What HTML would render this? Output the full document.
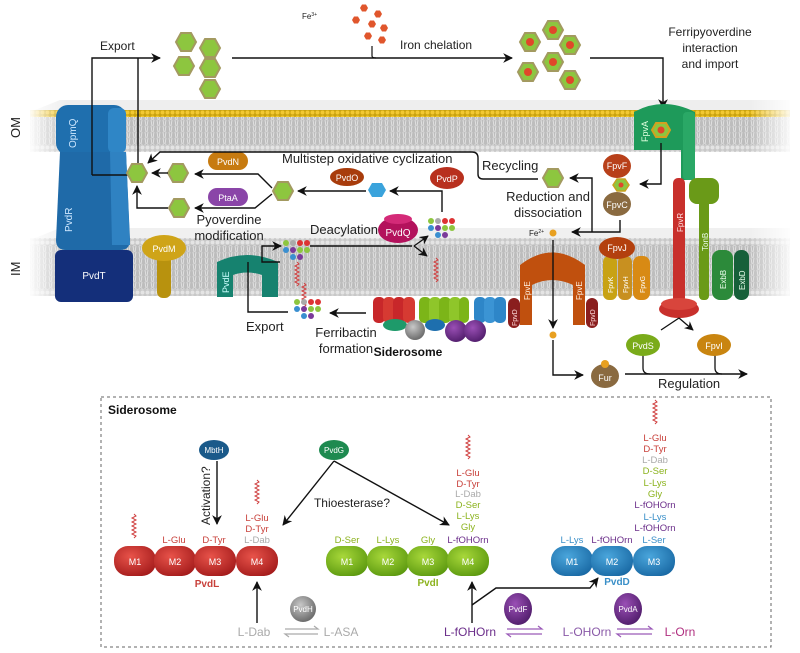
<!DOCTYPE html>
<html><head><meta charset="utf-8">
<style>
html,body{margin:0;padding:0;background:#fff;}
svg{display:block;font-family:"Liberation Sans",sans-serif;}
</style></head><body>
<svg width="800" height="653" viewBox="0 0 800 653" xmlns="http://www.w3.org/2000/svg">
<defs>
<marker id="ar" viewBox="0 0 10 10" refX="9" refY="5" markerWidth="7" markerHeight="7" orient="auto-start-reverse"><path d="M0,0 L10,5 L0,10 L3,5z" fill="#111"/></marker>
<pattern id="lip" width="6" height="6" patternUnits="userSpaceOnUse"><rect width="6" height="6" fill="#bdbdbd"/><path d="M1,0 L2,6 M4,0 L3,6" stroke="#e6e6e6" stroke-width="0.8"/></pattern>
<pattern id="heads" width="5" height="5" patternUnits="userSpaceOnUse"><rect width="5" height="5" fill="#c8c8c8"/><circle cx="2.5" cy="2.5" r="2" fill="#e4e4e4"/></pattern>
<pattern id="yheads" width="5" height="5" patternUnits="userSpaceOnUse"><rect width="5" height="5" fill="#c9a20e"/><circle cx="2.5" cy="2.5" r="2" fill="#f2c832"/></pattern>
<linearGradient id="fadeL" x1="0" x2="1"><stop offset="0" stop-color="#fff" stop-opacity="1"/><stop offset="1" stop-color="#fff" stop-opacity="0"/></linearGradient>
<linearGradient id="fadeR" x1="0" x2="1"><stop offset="0" stop-color="#fff" stop-opacity="0"/><stop offset="1" stop-color="#fff" stop-opacity="1"/></linearGradient>
<radialGradient id="gR" cx="0.4" cy="0.35" r="0.7"><stop offset="0" stop-color="#e8534a"/><stop offset="1" stop-color="#a51c1c"/></radialGradient>
<radialGradient id="gG" cx="0.4" cy="0.35" r="0.7"><stop offset="0" stop-color="#a8d83a"/><stop offset="1" stop-color="#5d9a10"/></radialGradient>
<radialGradient id="gB" cx="0.4" cy="0.35" r="0.7"><stop offset="0" stop-color="#4aa6dc"/><stop offset="1" stop-color="#1a6aa5"/></radialGradient>
<radialGradient id="gP" cx="0.4" cy="0.35" r="0.7"><stop offset="0" stop-color="#9a4fb5"/><stop offset="1" stop-color="#4f1c6a"/></radialGradient>
<radialGradient id="gGr" cx="0.4" cy="0.35" r="0.7"><stop offset="0" stop-color="#c8c8c8"/><stop offset="1" stop-color="#666"/></radialGradient>
<g id="hx"><polygon points="-10,0 -5,-9 5,-9 10,0 5,9 -5,9" fill="#8dc63f" stroke="#a39a60" stroke-width="2"/></g>
<g id="hxf"><polygon points="-10,0 -5,-9 5,-9 10,0 5,9 -5,9" fill="#8dc63f" stroke="#a39a60" stroke-width="2"/><circle r="4" fill="#e0472a"/></g>
<g id="rh"><polygon points="-4,0 -2,-3.5 2,-3.5 4,0 2,3.5 -2,3.5" fill="#e0562c"/></g>
<g id="dots">
<circle cx="0" cy="0" r="3" fill="#8dc63f"/><circle cx="7" cy="0" r="3" fill="#aaa"/><circle cx="14" cy="0" r="3" fill="#d33"/><circle cx="21" cy="0" r="3" fill="#d33"/>
<circle cx="0" cy="7" r="3" fill="#3a8fd0"/><circle cx="7" cy="7" r="3" fill="#7b3a9a"/><circle cx="14" cy="7" r="3" fill="#8dc63f"/><circle cx="21" cy="7" r="3" fill="#8dc63f"/>
<circle cx="7" cy="14" r="3" fill="#3a8fd0"/><circle cx="14" cy="14" r="3" fill="#7b3a9a"/></g>
<path id="sq" d="M0,0 l2,2 l-4,2 l4,2 l-4,2 l4,2 l-4,2 l4,2 l-4,2 l4,2 l-4,2 l4,2 l-2,2" fill="none" stroke="#d04040" stroke-width="1"/>
</defs>

<path d="M30,112 L60,100 L790,100 L790,112z" fill="#eee"/>
<rect x="30" y="110" width="760" height="7" fill="url(#yheads)"/>
<rect x="30" y="117" width="760" height="29" fill="url(#lip)"/>
<rect x="30" y="145" width="760" height="7" fill="url(#heads)"/>
<path d="M30,240 L60,228 L790,228 L790,240z" fill="#f0f0f0"/>
<rect x="30" y="238" width="760" height="7" fill="url(#heads)"/>
<rect x="30" y="245" width="760" height="45" fill="url(#lip)"/>
<rect x="30" y="289" width="760" height="7" fill="url(#heads)"/>
<rect x="28" y="95" width="40" height="205" fill="url(#fadeL)"/>
<rect x="750" y="95" width="45" height="205" fill="url(#fadeR)"/>

<text transform="translate(20,138) rotate(-90)" font-size="13" fill="#222">OM</text>
<text transform="translate(20,276) rotate(-90)" font-size="13" fill="#222">IM</text>

<rect x="56" y="105" width="70" height="50" rx="12" fill="#1f6fae"/>
<rect x="108" y="108" width="18" height="45" rx="6" fill="#2f86c6"/>
<text transform="translate(76,148) rotate(-90)" font-size="10" fill="#cfe8ff">OpmQ</text>
<path d="M60,152 L126,152 L130,240 Q130,250 120,250 L66,250 Q56,250 56,240z" fill="#1f6aa8"/>
<path d="M110,152 L126,152 L130,245 L112,245z" fill="#2f82c2"/>
<text transform="translate(72,232) rotate(-90)" font-size="10" fill="#cfe8ff">PvdR</text>
<rect x="55" y="250" width="78" height="52" rx="6" fill="#142f7a"/>
<text x="94" y="279" font-size="10" fill="#fff" text-anchor="middle">PvdT</text>

<rect x="157" y="250" width="14" height="48" rx="6" fill="#b8920e"/>
<ellipse cx="164" cy="248" rx="22" ry="13" fill="#cfa418"/>
<text x="164" y="252" font-size="9" fill="#fff" text-anchor="middle">PvdM</text>

<path d="M217,262 Q247,248 278,262 L278,297 L262,297 L262,275 Q247,270 233,275 L233,297 L217,297z" fill="#16826f"/>
<text transform="translate(229,293) rotate(-90)" font-size="9" fill="#cff">PvdE</text>

<use href="#hx" x="186" y="42"/><use href="#hx" x="210" y="48"/><use href="#hx" x="210" y="68"/><use href="#hx" x="184" y="66"/><use href="#hx" x="210" y="89"/>
<text x="100" y="50" font-size="12" fill="#222">Export</text>
<path d="M92,175 L92,58 L160,58" fill="none" stroke="#111" stroke-width="1.4" marker-end="url(#ar)"/>
<path d="M138,165 L138,58" fill="none" stroke="#111" stroke-width="1.4"/>
<path d="M92,175 L128,175" fill="none" stroke="#111" stroke-width="1.4"/>
<text x="302" y="19" font-size="8" fill="#222">Fe<tspan font-size="5" dy="-3">3+</tspan></text>
<use href="#rh" x="364" y="8"/><use href="#rh" x="378" y="14"/><use href="#rh" x="356" y="20"/><use href="#rh" x="372" y="24"/><use href="#rh" x="384" y="28"/><use href="#rh" x="368" y="36"/><use href="#rh" x="382" y="40"/>
<path d="M372,46 L372,56 Q372,58 376,58" fill="none" stroke="#111" stroke-width="1.2"/>
<path d="M232,58 L512,58" fill="none" stroke="#111" stroke-width="1.4" marker-end="url(#ar)"/>
<text x="400" y="49" font-size="12" fill="#222">Iron chelation</text>
<use href="#hxf" x="553" y="30"/><use href="#hxf" x="530" y="42"/><use href="#hxf" x="570" y="45"/><use href="#hxf" x="553" y="62"/><use href="#hxf" x="528" y="72"/><use href="#hxf" x="570" y="80"/>
<path d="M590,58 L663,58 L663,108" fill="none" stroke="#111" stroke-width="1.4" marker-end="url(#ar)"/>
<text font-size="12" fill="#222" text-anchor="middle"><tspan x="710" y="36">Ferripyoverdine</tspan><tspan x="710" y="52">interaction</tspan><tspan x="710" y="68">and import</tspan></text>

<use href="#hx" x="137" y="173"/><use href="#hx" x="178" y="173"/><use href="#hx" x="179" y="208"/><use href="#hx" x="283" y="191"/>
<path d="M168,173 L152,173" stroke="#111" stroke-width="1.4" marker-end="url(#ar)"/>
<path d="M272,188 L258,174 L195,174" fill="none" stroke="#111" stroke-width="1.4" marker-end="url(#ar)"/>
<path d="M272,194 L255,208 L195,208" fill="none" stroke="#111" stroke-width="1.4" marker-end="url(#ar)"/>
<path d="M168,208 L137,208 L137,186" fill="none" stroke="#111" stroke-width="1.4" marker-end="url(#ar)"/>
<rect x="208" y="152" width="40" height="18" rx="9" fill="#c77b10"/><text x="228" y="165" font-size="9" fill="#fff" text-anchor="middle">PvdN</text>
<rect x="208" y="188" width="40" height="18" rx="9" fill="#8a45a8"/><text x="228" y="201" font-size="9" fill="#fff" text-anchor="middle">PtaA</text>
<text font-size="13" fill="#222" text-anchor="middle"><tspan x="229" y="224">Pyoverdine</tspan><tspan x="229" y="240">modification</tspan></text>
<text x="282" y="163" font-size="13" fill="#222">Multistep oxidative cyclization</text>
<ellipse cx="347" cy="177" rx="17" ry="9" fill="#a83c0c"/><text x="347" y="181" font-size="9" fill="#fff" text-anchor="middle">PvdO</text>
<polygon points="368,190 372,183 382,183 386,190 382,197 372,197" fill="#3aa3dc"/>
<path d="M366,191 L298,191" stroke="#111" stroke-width="1.4" marker-end="url(#ar)"/>
<ellipse cx="447" cy="178" rx="17" ry="11" fill="#b8301e"/><text x="447" y="182" font-size="9" fill="#fff" text-anchor="middle">PvdP</text>
<path d="M442,212 L442,191 L390,191" fill="none" stroke="#111" stroke-width="1.4" marker-end="url(#ar)"/>
<use href="#dots" x="431" y="221"/>
<ellipse cx="398" cy="230" rx="20" ry="13" fill="#b3125c"/><ellipse cx="398" cy="219" rx="14" ry="5" fill="#d42a78"/><text x="398" y="236" font-size="10" fill="#fff" text-anchor="middle">PvdQ</text>
<text x="310" y="234" font-size="13" fill="#222">Deacylation</text>
<use href="#dots" x="286" y="243"/>
<path d="M310,246 L412,246" stroke="#111" stroke-width="1.4"/>
<path d="M414,246 L428,236" stroke="#111" stroke-width="1.3" marker-end="url(#ar)"/>
<path d="M414,246 L427,256" stroke="#111" stroke-width="1.3" marker-end="url(#ar)"/>
<use href="#sq" x="436" y="258"/>
<use href="#sq" x="297" y="262"/><use href="#sq" x="304" y="283"/>
<path d="M280,262 L262,262 L262,246 L281,246" fill="none" stroke="#111" stroke-width="1.4" marker-end="url(#ar)"/>
<path d="M288,312 L248,312 L248,262" fill="none" stroke="#111" stroke-width="1.4"/>
<use href="#dots" x="297" y="302"/>
<text x="246" y="331" font-size="13" fill="#222">Export</text>
<path d="M366,313 L330,313" stroke="#111" stroke-width="1.4" marker-end="url(#ar)"/>
<text font-size="13" fill="#222" text-anchor="middle"><tspan x="346" y="337">Ferribactin</tspan><tspan x="346" y="353">formation</tspan></text>

<g>
<rect x="373" y="297" width="12" height="26" rx="5" fill="#c8272a"/><rect x="383" y="297" width="12" height="26" rx="5" fill="#d63a32"/><rect x="393" y="297" width="12" height="26" rx="5" fill="#c8272a"/><rect x="403" y="297" width="12" height="26" rx="5" fill="#d63a32"/>
<rect x="419" y="297" width="12" height="26" rx="5" fill="#7cb518"/><rect x="429" y="297" width="12" height="26" rx="5" fill="#8fc62a"/><rect x="439" y="297" width="12" height="26" rx="5" fill="#7cb518"/><rect x="449" y="297" width="12" height="26" rx="5" fill="#8fc62a"/><rect x="459" y="297" width="10" height="26" rx="5" fill="#7cb518"/>
<rect x="474" y="297" width="12" height="26" rx="5" fill="#2e86c8"/><rect x="484" y="297" width="12" height="26" rx="5" fill="#3b94d4"/><rect x="494" y="297" width="12" height="26" rx="5" fill="#2e86c8"/>
<ellipse cx="395" cy="325" rx="12" ry="6" fill="#1e9a6a"/>
<circle cx="415" cy="330" r="10" fill="url(#gGr)"/>
<ellipse cx="435" cy="325" rx="10" ry="6" fill="#1e6fae"/>
<circle cx="456" cy="331" r="11" fill="url(#gP)"/><circle cx="475" cy="331" r="11" fill="url(#gP)"/>
</g>
<text x="408" y="356" font-size="12" font-weight="bold" fill="#111" text-anchor="middle">Siderosome</text>

<path d="M538,179 L483,179 Q478,179 478,174 L478,158 Q478,152 472,152 L160,152 L148,163" fill="none" stroke="#111" stroke-width="1.4" marker-end="url(#ar)"/>
<text x="482" y="170" font-size="13" fill="#222">Recycling</text>
<use href="#hx" x="553" y="178"/>
<text font-size="13" fill="#222" text-anchor="middle"><tspan x="548" y="201">Reduction and</tspan><tspan x="548" y="217">dissociation</tspan></text>
<text x="529" y="236" font-size="8" fill="#222">Fe<tspan font-size="5" dy="-3">2+</tspan></text>
<circle cx="553" cy="233" r="3.5" fill="#e8a020"/>
<path d="M620,220 L620,232 L572,232" fill="none" stroke="#111" stroke-width="1.4" marker-end="url(#ar)"/>
<path d="M592,232 L592,178 L570,178" fill="none" stroke="#111" stroke-width="1.4" marker-end="url(#ar)"/>

<path d="M634,112 Q663,96 695,112 L695,180 L681,180 L681,150 L634,150z" fill="#1e9a5a"/>
<rect x="683" y="112" width="12" height="68" rx="4" fill="#2aa866"/>
<polygon points="652,130 656,123 666,123 670,130 666,137 656,137" fill="#8dc63f" stroke="#d4a020" stroke-width="2"/><circle cx="661" cy="130" r="3.5" fill="#e0472a"/>
<text transform="translate(648,142) rotate(-90)" font-size="9" fill="#dfd">FpvA</text>
<path d="M661,143 L661,184 L640,184" fill="none" stroke="#111" stroke-width="1.4" marker-end="url(#ar)"/>
<ellipse cx="617" cy="166" rx="14" ry="12" fill="#b8401a"/><text x="617" y="169" font-size="9" fill="#fff" text-anchor="middle">FpvF</text>
<polygon points="613,185 617,179 625,179 629,185 625,191 617,191" fill="#8dc63f" stroke="#c9a020" stroke-width="1.5"/><circle cx="621" cy="185" r="2.5" fill="#e0472a"/>
<ellipse cx="617" cy="204" rx="14" ry="12" fill="#8a6a40"/><text x="617" y="208" font-size="9" fill="#fff" text-anchor="middle">FpvC</text>

<rect x="673" y="178" width="12" height="125" rx="5" fill="#c8302c"/>
<ellipse cx="679" cy="309" rx="20" ry="9" fill="#c8302c"/><ellipse cx="679" cy="304" rx="18" ry="6" fill="#d8453c"/>
<text transform="translate(683,232) rotate(-90)" font-size="8" fill="#fdd">FpvR</text>
<rect x="699" y="200" width="10" height="100" rx="4" fill="#6a9a18"/>
<rect x="689" y="178" width="30" height="26" rx="8" fill="#6a9a18"/>
<text transform="translate(708,251) rotate(-90)" font-size="8" fill="#efe">TonB</text>
<rect x="712" y="250" width="21" height="50" rx="8" fill="#2c8a3a"/><text transform="translate(726,289) rotate(-90)" font-size="8" fill="#efe">ExbB</text>
<rect x="734" y="250" width="15" height="50" rx="7" fill="#17603a"/><text transform="translate(745,290) rotate(-90)" font-size="8" fill="#efe">ExbD</text>

<path d="M520,265 Q552,240 585,265 L585,325 L573,325 L573,285 Q552,275 532,285 L532,325 L520,325z" fill="#c0500e"/>
<text transform="translate(530,300) rotate(-90)" font-size="8" fill="#fed">FpvE</text>
<text transform="translate(582,300) rotate(-90)" font-size="8" fill="#fed">FpvE</text>
<rect x="508" y="298" width="12" height="30" rx="6" fill="#8a1e1e"/><text transform="translate(517,326) rotate(-90)" font-size="7" fill="#fdd">FpvD</text>
<rect x="586" y="298" width="12" height="30" rx="6" fill="#8a1e1e"/><text transform="translate(595,326) rotate(-90)" font-size="7" fill="#fdd">FpvD</text>
<rect x="603" y="256" width="14" height="44" rx="6" fill="#c8a214"/><text transform="translate(613,293) rotate(-90)" font-size="7" fill="#fff">FpvK</text>
<rect x="618" y="256" width="14" height="44" rx="6" fill="#c89020"/><text transform="translate(628,293) rotate(-90)" font-size="7" fill="#fff">FpvH</text>
<rect x="633" y="256" width="17" height="44" rx="7" fill="#d88a14"/><text transform="translate(645,293) rotate(-90)" font-size="7" fill="#fff">FpvG</text>
<ellipse cx="617" cy="248" rx="18" ry="11" fill="#b3400e"/><text x="617" y="251" font-size="9" fill="#fff" text-anchor="middle">FpvJ</text>
<path d="M553,240 L553,328" stroke="#111" stroke-width="1.4" marker-end="url(#ar)"/>
<circle cx="553" cy="335" r="3.5" fill="#e8a020"/>
<path d="M553,340 L553,375 L583,375" fill="none" stroke="#111" stroke-width="1.4" marker-end="url(#ar)"/>
<ellipse cx="605" cy="376" rx="14" ry="12" fill="#8a6a40"/><circle cx="605" cy="364" r="4" fill="#e8a020"/><text x="605" y="381" font-size="9" fill="#fff" text-anchor="middle">Fur</text>
<path d="M625,374 L747,374" stroke="#111" stroke-width="1.4" marker-end="url(#ar)"/>
<path d="M643,355 L643,368 Q643,374 650,374 M715,355 L715,368 Q715,374 722,374" fill="none" stroke="#111" stroke-width="1.3"/>
<text x="658" y="388" font-size="13" fill="#222">Regulation</text>
<path d="M679,318 L661,330 M679,318 L693,330" stroke="#111" stroke-width="1.3" marker-end="url(#ar)"/>
<ellipse cx="643" cy="345" rx="17" ry="11" fill="#7aab1a"/><text x="643" y="349" font-size="9" fill="#fff" text-anchor="middle">PvdS</text>
<ellipse cx="714" cy="345" rx="17" ry="11" fill="#c98510"/><text x="714" y="349" font-size="9" fill="#fff" text-anchor="middle">FpvI</text>

<rect x="101" y="397" width="670" height="250" fill="none" stroke="#666" stroke-width="1" stroke-dasharray="3,3"/>
<text x="108" y="414" font-size="12" font-weight="bold" fill="#111">Siderosome</text>
<ellipse cx="214" cy="450" rx="15" ry="10" fill="#1a5a8a"/><text x="214" y="453" font-size="8" fill="#fff" text-anchor="middle">MbtH</text>
<path d="M217,461 L217,524" stroke="#111" stroke-width="1.4" marker-end="url(#ar)"/>
<text transform="translate(210,525) rotate(-90)" font-size="12" fill="#222">Activation?</text>
<ellipse cx="334" cy="450" rx="15" ry="10" fill="#1e8a50"/><text x="334" y="453" font-size="8" fill="#fff" text-anchor="middle">PvdG</text>
<path d="M334,461 L283,525" stroke="#111" stroke-width="1.4" marker-end="url(#ar)"/>
<path d="M334,461 L449,525" stroke="#111" stroke-width="1.4" marker-end="url(#ar)"/>
<text x="352" y="507" font-size="12" fill="#222" text-anchor="middle">Thioesterase?</text>

<g font-size="9.5" text-anchor="middle">
<g fill="#c8403a"><text x="174" y="543">L-Glu</text><text x="214" y="543">D-Tyr</text><text x="257" y="521">L-Glu</text><text x="257" y="532">D-Tyr</text></g>
<text x="257" y="543" fill="#aaa">L-Dab</text>
<g fill="#8cb31e"><text x="347" y="543">D-Ser</text><text x="388" y="543">L-Lys</text><text x="428" y="543">Gly</text><text x="468" y="508">D-Ser</text><text x="468" y="519">L-Lys</text><text x="468" y="530">Gly</text></g>
<text x="468" y="543" fill="#6b2e8a">L-fOHOrn</text>
<g fill="#c8403a"><text x="468" y="476">L-Glu</text><text x="468" y="487">D-Tyr</text></g><text x="468" y="497" fill="#aaa">L-Dab</text>
<text x="572" y="543" fill="#3a8fc8">L-Lys</text><text x="612" y="543" fill="#6b2e8a">L-fOHOrn</text><text x="654" y="543" fill="#3a8fc8">L-Ser</text>
<g fill="#c8403a"><text x="655" y="441">L-Glu</text><text x="655" y="452">D-Tyr</text></g>
<text x="655" y="463" fill="#aaa">L-Dab</text>
<g fill="#8cb31e"><text x="655" y="474">D-Ser</text><text x="655" y="486">L-Lys</text><text x="655" y="497">Gly</text></g>
<text x="655" y="508" fill="#6b2e8a">L-fOHOrn</text><text x="655" y="520" fill="#3a8fc8">L-Lys</text><text x="655" y="531" fill="#6b2e8a">L-fOHOrn</text>
</g>
<use href="#sq" x="134" y="514"/><use href="#sq" x="257" y="480"/><use href="#sq" x="468" y="435"/><use href="#sq" x="655" y="400"/>

<g font-size="9" fill="#fff" text-anchor="middle">
<rect x="114" y="546" width="42" height="30" rx="14" fill="url(#gR)"/><text x="135" y="565">M1</text>
<rect x="154" y="546" width="42" height="30" rx="14" fill="url(#gR)"/><text x="175" y="565">M2</text>
<rect x="194" y="546" width="42" height="30" rx="14" fill="url(#gR)"/><text x="215" y="565">M3</text>
<rect x="236" y="546" width="42" height="30" rx="14" fill="url(#gR)"/><text x="257" y="565">M4</text>
<rect x="326" y="546" width="42" height="30" rx="14" fill="url(#gG)"/><text x="347" y="565">M1</text>
<rect x="367" y="546" width="42" height="30" rx="14" fill="url(#gG)"/><text x="388" y="565">M2</text>
<rect x="407" y="546" width="42" height="30" rx="14" fill="url(#gG)"/><text x="428" y="565">M3</text>
<rect x="447" y="546" width="42" height="30" rx="14" fill="url(#gG)"/><text x="468" y="565">M4</text>
<rect x="551" y="546" width="42" height="30" rx="14" fill="url(#gB)"/><text x="572" y="565">M1</text>
<rect x="591" y="546" width="42" height="30" rx="14" fill="url(#gB)"/><text x="612" y="565">M2</text>
<rect x="633" y="546" width="42" height="30" rx="14" fill="url(#gB)"/><text x="654" y="565">M3</text>
</g>
<text x="207" y="587" font-size="10" font-weight="bold" fill="#c8403a" text-anchor="middle">PvdL</text>
<text x="428" y="586" font-size="10" font-weight="bold" fill="#8cb31e" text-anchor="middle">PvdI</text>
<text x="617" y="585" font-size="10" font-weight="bold" fill="#3a8fc8" text-anchor="middle">PvdD</text>

<path d="M257,623 L257,582" stroke="#111" stroke-width="1.4" marker-end="url(#ar)"/>
<path d="M472,623 L472,582" stroke="#111" stroke-width="1.4" marker-end="url(#ar)"/>
<path d="M472,605 L496,588 L590,588 L598,578" fill="none" stroke="#111" stroke-width="1.4" marker-end="url(#ar)"/>
<circle cx="303" cy="609" r="13" fill="url(#gGr)"/><text x="303" y="612" font-size="8" fill="#fff" text-anchor="middle">PvdH</text>
<ellipse cx="518" cy="609" rx="14" ry="16" fill="url(#gP)"/><text x="518" y="612" font-size="8" fill="#fff" text-anchor="middle">PvdF</text>
<ellipse cx="628" cy="609" rx="14" ry="16" fill="url(#gP)"/><text x="628" y="612" font-size="8" fill="#fff" text-anchor="middle">PvdA</text>
<g font-size="12" text-anchor="middle">
<text x="254" y="636" fill="#aaa">L-Dab</text><text x="341" y="636" fill="#aaa">L-ASA</text>
<text x="470" y="636" fill="#6b2e8a">L-fOHOrn</text><text x="587" y="636" fill="#8a5aa8">L-OHOrn</text><text x="680" y="636" fill="#b03080">L-Orn</text>
</g>
<g fill="none" stroke-width="1.2">
<path d="M285,629 L318,629 l-4,-3 M318,634 L285,634 l4,3" stroke="#aaa"/>
<path d="M507,629 L542,629 l-4,-3 M542,634 L507,634 l4,3" stroke="#9a5ab8"/>
<path d="M617,629 L652,629 l-4,-3 M652,634 L617,634 l4,3" stroke="#9a5ab8"/>
</g>
</svg>
</body></html>
